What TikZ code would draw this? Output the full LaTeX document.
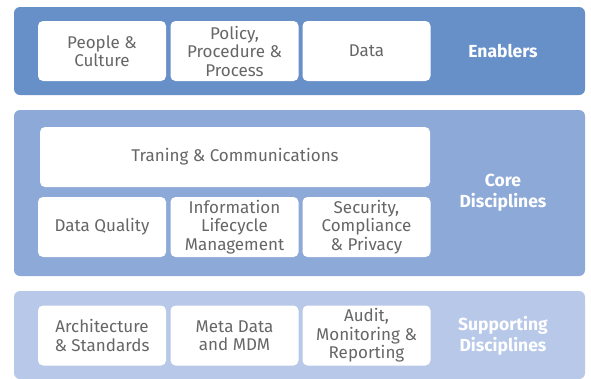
\documentclass[tikz,border=0pt]{standalone}
\usepackage{fontspec}
\setmainfont{Fira Sans}
\usetikzlibrary{calc}
\definecolor{enablerblue}{HTML}{6790C9}
\definecolor{coreblue}{HTML}{8DA9D8}
\definecolor{supportblue}{HTML}{B8C8E8}
\definecolor{boxtext}{HTML}{666666}
\tikzset{
  band/.style={rounded corners=6pt, inner sep=0pt, minimum width=571pt},
  item/.style={fill=white, rounded corners=5pt, inner sep=0pt,
    minimum width=128pt, minimum height=60pt, align=center,
    text=boxtext, font=\fontsize{17}{18.5}\selectfont},
  tier/.style={text=white, align=center,
    font=\bfseries\fontsize{17.5}{21}\selectfont},
}

\begin{document}
\begin{tikzpicture}[x=1pt,y=-1pt]
\useasboundingbox (0,0) rectangle (591,378);

%%%%%%%%%%%%%%%%%%%%%%%%%%%%%%%%%%%%%%%%%%%%%%%%%%%%%%%%%%%%%% enablers
\coordinate (A) at (102, 51);

\node[band, fill=enablerblue, minimum height=88pt] (enablers) at (299.5,51) {};
\node[item] (people) at ($(A)$) {People \&\\Culture};
\node[item] (policy) at ($(A)+(132.5,0)$) {Policy,\\Procedure \&\\Process};
\node[item] (data) at ($(A)+(264.5,0)$) {Data};
\node[tier] (enablerlabel) at ($(A)+(401,0)$) {Enablers};

%%%%%%%%%%%%%%%%%%%%%%%%%%%%%%%%%%%%%%%%%%%%%%%%%%%%%%%%%%%%%% core
\coordinate (A) at (102, 227);

\node[band, fill=coreblue, minimum height=166pt] (core) at (299.5,193) {};
\node[item, minimum width=390pt] (training) at ($(A)+(133,-70)$) {Traning \& Communications};
\node[item] (quality) at ($(A)$) {Data Quality};
\node[item] (lifecycle) at ($(A)+(132.5,0)$) {Information\\Lifecycle\\Management};
\node[item] (security) at ($(A)+(264.5,0)$) {Security,\\Compliance\\\& Privacy};
\node[tier] (corelabel) at ($(A)+(401,-34)$) {Core\\Disciplines};

%%%%%%%%%%%%%%%%%%%%%%%%%%%%%%%%%%%%%%%%%%%%%%%%%%%%%%%%%%%%%% supporting
\coordinate (A) at (102, 335.5);

\node[band, fill=supportblue, minimum height=88pt] (supporting) at (299.5,335) {};
\node[item] (architecture) at ($(A)$) {Architecture\\\& Standards};
\node[item] (metadata) at ($(A)+(132.5,0)$) {Meta Data\\and MDM};
\node[item] (audit) at ($(A)+(264.5,0)$) {Audit,\\Monitoring \&\\Reporting};
\node[tier] (supportlabel) at ($(A)+(401,0)$) {Supporting\\Disciplines};

\end{tikzpicture}
\end{document}
